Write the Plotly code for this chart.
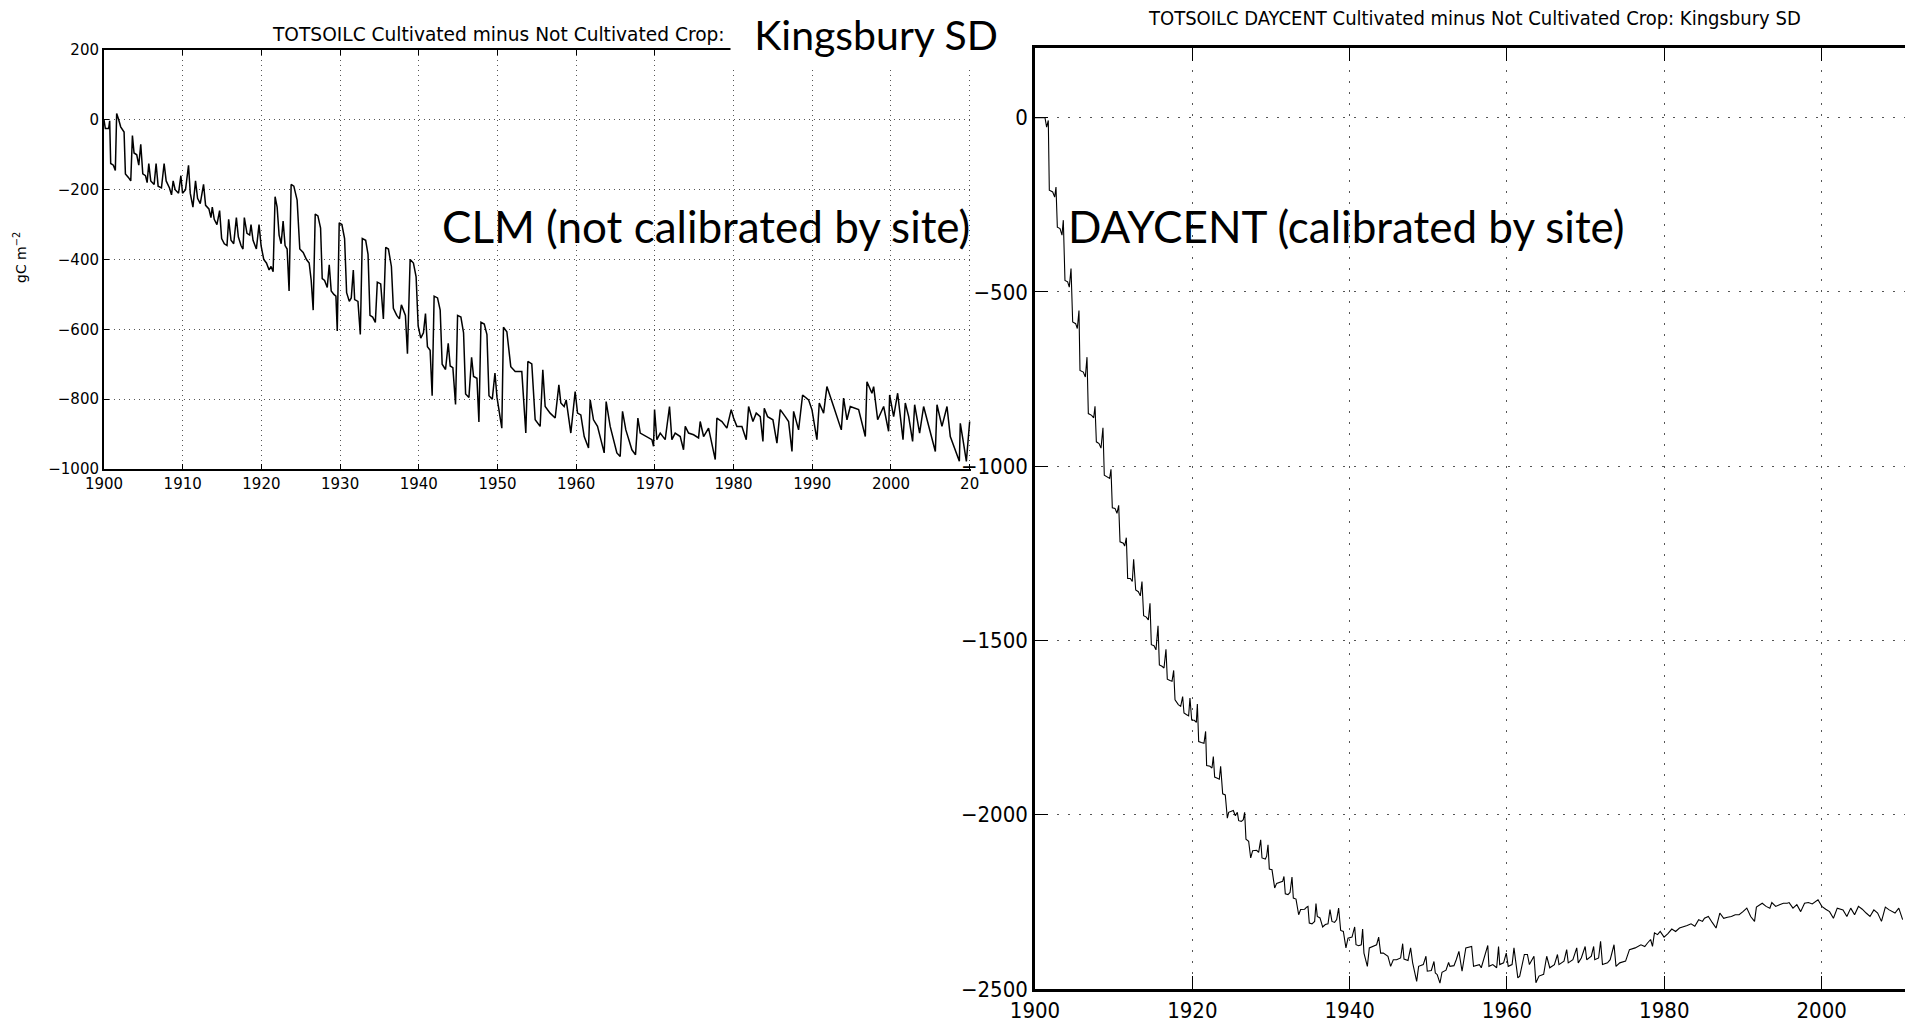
import plotly.graph_objects as go

W, H = 1905, 1026

# ---------------- data (decimal year, gC m-2) ----------------
clm_pts = [
    (1900.00, 0), (1900.17, -25), (1900.59, -25), (1900.72, -3), (1900.85, -125), (1901.19, -130),
    (1901.44, -145), (1901.61, 18), (1901.87, 0), (1902.12, -20), (1902.55, -35), (1902.72, -155),
    (1903.10, -165), (1903.40, -175), (1903.61, -45), (1903.82, -95), (1904.16, -100), (1904.42, -130),
    (1904.67, -70), (1904.93, -155), (1905.27, -160), (1905.48, -180), (1905.69, -125), (1905.94, -175),
    (1906.37, -185), (1906.62, -125), (1906.88, -190), (1907.30, -195), (1907.64, -125), (1907.90, -175),
    (1908.32, -195), (1908.58, -215), (1908.79, -175), (1909.04, -200), (1909.47, -210), (1909.77, -160),
    (1909.98, -210),
    (1910.36, -200), (1910.74, -130), (1910.96, -210), (1911.30, -250), (1911.63, -175), (1911.89, -225),
    (1912.23, -240), (1912.65, -185), (1912.91, -245), (1913.33, -255), (1913.59, -280), (1913.76, -250),
    (1914.01, -285), (1914.35, -300), (1914.69, -260), (1914.95, -340), (1915.29, -355), (1915.63, -360),
    (1915.84, -285), (1916.14, -345), (1916.48, -355), (1916.82, -280), (1917.07, -335), (1917.41, -360),
    (1917.66, -370), (1917.83, -280), (1918.17, -325), (1918.51, -330), (1918.68, -300), (1918.94, -345),
    (1919.36, -370), (1919.70, -300), (1919.96, -360),
    (1920.30, -400), (1920.64, -410), (1920.98, -430), (1921.23, -420), (1921.49, -435), (1921.74, -220),
    (1922.00, -250), (1922.25, -330), (1922.51, -355), (1922.76, -290), (1923.01, -360), (1923.27, -370),
    (1923.52, -490), (1923.78, -185), (1924.12, -190), (1924.54, -230), (1924.88, -370), (1925.31, -380),
    (1925.73, -400), (1926.07, -410), (1926.33, -460), (1926.58, -545), (1926.84, -270), (1927.18, -275),
    (1927.52, -310), (1927.73, -455), (1928.03, -460), (1928.37, -480), (1928.62, -415), (1928.87, -490),
    (1929.21, -500), (1929.47, -505), (1929.64, -605), (1929.89, -295),
    (1930.23, -300), (1930.57, -340), (1930.83, -495), (1931.17, -520), (1931.42, -510), (1931.68, -430),
    (1931.85, -515), (1932.27, -520), (1932.57, -615), (1932.82, -340), (1933.25, -345), (1933.55, -385),
    (1933.80, -560), (1934.14, -565), (1934.48, -580), (1934.73, -465), (1935.16, -470), (1935.50, -570),
    (1935.80, -365), (1936.14, -370), (1936.52, -420), (1936.77, -540), (1937.20, -560), (1937.54, -570),
    (1937.79, -530), (1938.05, -545), (1938.30, -560), (1938.56, -670), (1938.90, -400), (1939.32, -410),
    (1939.66, -450), (1939.92, -590),
    (1940.25, -625), (1940.59, -610), (1940.85, -555), (1941.10, -650), (1941.44, -660), (1941.70, -790),
    (1941.95, -505), (1942.38, -510), (1942.72, -545), (1942.97, -700), (1943.40, -715), (1943.74, -640),
    (1943.99, -705), (1944.33, -710), (1944.67, -815), (1944.93, -560), (1945.35, -565), (1945.69, -610),
    (1945.95, -785), (1946.37, -795), (1946.71, -680), (1946.96, -735), (1947.39, -740), (1947.64, -865),
    (1947.90, -580), (1948.32, -585), (1948.66, -615), (1948.92, -790), (1949.34, -800), (1949.68, -725),
    (1949.94, -795),
    (1950.55, -883), (1950.76, -594), (1951.19, -607), (1951.69, -707), (1952.25, -721), (1953.09, -721),
    (1953.60, -897), (1953.86, -692), (1954.36, -699), (1954.79, -859), (1955.42, -878), (1955.76, -716),
    (1956.06, -821), (1956.69, -840), (1957.33, -854), (1957.80, -759), (1958.05, -811), (1958.47, -821),
    (1958.73, -802), (1959.32, -897), (1959.87, -778),
    (1960.17, -840), (1960.59, -845), (1961.02, -907), (1961.57, -940), (1961.78, -802), (1962.20, -859),
    (1962.71, -878), (1963.56, -954), (1963.81, -807), (1964.32, -878), (1964.75, -916), (1965.17, -954),
    (1965.59, -964), (1965.89, -835), (1966.31, -888), (1967.08, -945), (1967.54, -959), (1967.84, -854),
    (1968.14, -897), (1968.98, -907), (1969.62, -916), (1969.83, -935), (1969.96, -830),
    (1970.25, -916), (1970.68, -897), (1971.31, -916), (1971.86, -821), (1972.16, -916), (1972.58, -897),
    (1973.22, -907), (1973.64, -945), (1973.86, -878), (1974.28, -897), (1974.92, -902), (1975.55, -911),
    (1975.76, -864), (1976.19, -907), (1976.82, -883), (1977.67, -973), (1977.88, -854), (1978.52, -864),
    (1979.15, -883), (1979.70, -830),
    (1980.00, -854), (1980.42, -878), (1981.06, -878), (1981.61, -916), (1981.91, -821), (1982.46, -864),
    (1982.88, -840), (1983.39, -850), (1983.73, -921), (1983.90, -826), (1984.32, -850), (1985.00, -859),
    (1985.51, -926), (1985.93, -830), (1986.57, -850), (1986.99, -864), (1987.42, -950), (1987.63, -835),
    (1988.26, -888), (1988.77, -788), (1989.53, -802), (1989.96, -830),
    (1990.59, -916), (1990.89, -811), (1991.44, -840), (1991.86, -764), (1992.71, -821), (1993.69, -888),
    (1993.98, -797), (1994.41, -859), (1994.83, -821), (1995.89, -830), (1996.74, -907), (1996.95, -750),
    (1997.58, -783), (1997.80, -764), (1998.31, -859), (1998.64, -840), (1999.07, -821), (1999.70, -892),
    (1999.83, -788),
    (2000.34, -850), (2000.85, -783), (2001.53, -916), (2001.82, -811), (2002.25, -850), (2002.75, -921),
    (2003.01, -816), (2003.64, -897), (2004.15, -821), (2004.58, -859), (2005.64, -950), (2005.85, -816),
    (2006.48, -878), (2007.12, -821), (2007.54, -907), (2008.69, -978), (2008.81, -869), (2009.15, -916),
    (2009.58, -978), (2010.00, -864),
]

daycent_pts = [
    (1900.00, 0), (1901.27, 0), (1901.48, -27), (1901.69, -8), (1901.82, -208), (1902.25, -213),
    (1902.50, -228), (1902.67, -199), (1902.84, -314), (1903.18, -318), (1903.43, -337), (1903.60, -294),
    (1903.81, -467), (1904.15, -471), (1904.36, -486), (1904.58, -433), (1904.79, -586), (1905.17, -591),
    (1905.38, -605), (1905.59, -553), (1905.72, -725), (1906.14, -730), (1906.40, -744), (1906.61, -687),
    (1906.78, -849), (1907.20, -854), (1907.46, -861), (1907.63, -828), (1907.80, -930), (1908.14, -935),
    (1908.39, -948), (1908.64, -890), (1908.81, -1026), (1909.24, -1031), (1909.49, -1035), (1909.66, -1009),
    (1909.83, -1119), (1910.17, -1121), (1910.42, -1135), (1910.64, -1112), (1910.81, -1217), (1911.23, -1221),
    (1911.40, -1229), (1911.61, -1205), (1911.78, -1322), (1912.12, -1322), (1912.37, -1331), (1912.54, -1267),
    (1912.80, -1355), (1913.14, -1360), (1913.39, -1372), (1913.60, -1331), (1913.81, -1429), (1914.15, -1433),
    (1914.41, -1441), (1914.62, -1393), (1914.79, -1512), (1915.13, -1515), (1915.38, -1527), (1915.64, -1458),
    (1915.81, -1570), (1916.14, -1574), (1916.40, -1579), (1916.65, -1525), (1916.82, -1611), (1917.16, -1615),
    (1917.42, -1617), (1917.63, -1586), (1917.80, -1670), (1918.22, -1684), (1918.52, -1689), (1918.77, -1661),
    (1918.94, -1708), (1919.28, -1713), (1919.53, -1716), (1919.70, -1665), (1919.92, -1728), (1920.25, -1729),
    (1920.51, -1735), (1920.64, -1682), (1920.81, -1790), (1921.14, -1793), (1921.48, -1795), (1921.69, -1761),
    (1921.82, -1859), (1922.25, -1861), (1922.50, -1866), (1922.67, -1833), (1922.84, -1892), (1923.18, -1895),
    (1923.43, -1898), (1923.60, -1861), (1923.86, -1940), (1924.19, -1943), (1924.45, -2010), (1924.62, -1993),
    (1924.96, -1990), (1925.21, -1988), (1925.47, -2003), (1925.72, -1993), (1925.89, -2017), (1926.23, -2019),
    (1926.48, -2014), (1926.65, -1993), (1926.82, -2070), (1927.16, -2076), (1927.42, -2124), (1927.67, -2103),
    (1928.18, -2102), (1928.43, -2108), (1928.69, -2072), (1928.86, -2124), (1929.28, -2127), (1929.45, -2119),
    (1929.62, -2086), (1929.79, -2156), (1930.13, -2158), (1930.47, -2210), (1930.72, -2197), (1931.23, -2194),
    (1931.48, -2191), (1931.65, -2177), (1931.82, -2227), (1932.16, -2229), (1932.42, -2223), (1932.67, -2179),
    (1932.84, -2239), (1933.18, -2242), (1933.52, -2287), (1933.77, -2272), (1934.28, -2271), (1934.53, -2265),
    (1934.70, -2263), (1934.87, -2311), (1935.21, -2313), (1935.55, -2306), (1935.72, -2255), (1935.89, -2292),
    (1936.23, -2296), (1936.57, -2322), (1936.91, -2315), (1937.25, -2313), (1937.50, -2272), (1937.75, -2306),
    (1938.09, -2309), (1938.35, -2301), (1938.60, -2268), (1938.86, -2332), (1939.20, -2335), (1939.53, -2382),
    (1939.79, -2354), (1940.30, -2351), (1940.64, -2322), (1940.81, -2373), (1941.14, -2376), (1941.48, -2373),
    (1941.65, -2328), (1941.82, -2397), (1942.25, -2435), (1942.50, -2382), (1942.92, -2378), (1943.43, -2373),
    (1943.69, -2351), (1943.94, -2397), (1944.28, -2397), (1944.53, -2402), (1944.87, -2406), (1945.21, -2435),
    (1945.55, -2416), (1945.97, -2416), (1946.48, -2411), (1946.74, -2370), (1946.91, -2414), (1947.42, -2418),
    (1947.75, -2382), (1948.01, -2425), (1948.52, -2478), (1948.77, -2435), (1949.36, -2430), (1949.70, -2406),
    (1949.87, -2449), (1950.38, -2447), (1950.72, -2421), (1950.89, -2454), (1951.14, -2459), (1951.48, -2483),
    (1951.74, -2452), (1952.25, -2446), (1952.58, -2424), (1952.75, -2435), (1953.26, -2433), (1953.55, -2416),
    (1953.89, -2392), (1954.29, -2449), (1954.77, -2382), (1955.51, -2378), (1955.75, -2435), (1956.49, -2430),
    (1956.73, -2439), (1957.56, -2375), (1957.71, -2435), (1958.20, -2430), (1958.69, -2439), (1958.93, -2378),
    (1959.08, -2430), (1959.57, -2425), (1959.91, -2397), (1960.16, -2435), (1960.65, -2430), (1960.89, -2382),
    (1961.38, -2468), (1961.62, -2463), (1962.21, -2401), (1962.60, -2401), (1962.85, -2430), (1963.43, -2406),
    (1963.68, -2482), (1964.07, -2463), (1964.66, -2458), (1965.05, -2406), (1965.44, -2439), (1966.03, -2430),
    (1966.42, -2401), (1966.61, -2430), (1967.25, -2420), (1967.59, -2387), (1967.79, -2425), (1968.38, -2416),
    (1968.87, -2382), (1969.06, -2425), (1969.45, -2411), (1969.94, -2378), (1970.14, -2416), (1970.72, -2406),
    (1971.02, -2378), (1971.16, -2416), (1971.65, -2411), (1971.90, -2363), (1972.14, -2430), (1972.78, -2425),
    (1973.12, -2416), (1973.61, -2373), (1973.86, -2435), (1974.34, -2425), (1975.08, -2420), (1975.57, -2387),
    (1976.30, -2382), (1977.03, -2373), (1977.52, -2378), (1977.87, -2368), (1978.26, -2358), (1978.50, -2378),
    (1978.75, -2339), (1979.14, -2344), (1979.48, -2335), (1979.97, -2351), (1980.46, -2341), (1980.95, -2328),
    (1981.44, -2335), (1981.93, -2325), (1982.42, -2322), (1982.91, -2318), (1983.40, -2313), (1983.88, -2320),
    (1984.37, -2301), (1984.86, -2306), (1985.11, -2297), (1985.60, -2292), (1986.09, -2309), (1986.58, -2325),
    (1987.06, -2282), (1987.55, -2297), (1988.04, -2294), (1988.53, -2292), (1989.02, -2287), (1989.51, -2287),
    (1990.00, -2278), (1990.49, -2268), (1990.98, -2292), (1991.47, -2306), (1991.71, -2265), (1992.20, -2258),
    (1992.45, -2254), (1992.94, -2263), (1993.42, -2268), (1993.67, -2252), (1994.16, -2263), (1994.65, -2258),
    (1995.14, -2254), (1995.63, -2254), (1995.87, -2252), (1996.36, -2268), (1996.85, -2258), (1997.34, -2278),
    (1997.83, -2254), (1998.32, -2252), (1998.81, -2256), (1999.54, -2244), (2000.03, -2263), (2000.52, -2271),
    (2001.01, -2278), (2001.50, -2297), (2001.99, -2268), (2002.72, -2273), (2003.21, -2292), (2003.70, -2268),
    (2004.19, -2287), (2004.68, -2263), (2005.17, -2271), (2005.66, -2282), (2006.15, -2292), (2006.64, -2273),
    (2007.12, -2282), (2007.61, -2306), (2008.10, -2265), (2008.59, -2273), (2009.33, -2282), (2009.81, -2268),
    (2010.30, -2301),
]

clm_xticks = [1900, 1910, 1920, 1930, 1940, 1950, 1960, 1970, 1980, 1990, 2000, 2010]
clm_xlabels = ["1900", "1910", "1920", "1930", "1940", "1950", "1960", "1970", "1980", "1990", "2000", "20"]
clm_yticks = [-1000, -800, -600, -400, -200, 0, 200]
day_xticks = [1900, 1920, 1940, 1960, 1980, 2000]
day_yticks = [-2500, -2000, -1500, -1000, -500, 0]

title_left = "TOTSOILC Cultivated minus Not Cultivated Crop:"
title_right = "TOTSOILC DAYCENT Cultivated minus Not Cultivated Crop: Kingsbury SD"
site_label = "Kingsbury SD"
clm_label = "CLM (not calibrated by site)"
day_label = "DAYCENT (calibrated by site)"
ylabel_left = "gC m<sup>\u22122</sup>"

# ---------------- layout helpers ----------------
def fx(px):
    return px / W

def fy(py):
    return 1 - py / H

WIDE = "DejaVu Sans, Verdana, sans-serif"
NARROW = "Liberation Sans Narrow, DejaVu Sans Condensed, Liberation Sans, Arial, sans-serif"
CAL = "Lato, Open Sans, sans-serif"

fig = go.Figure()
fig.add_trace(go.Scatter(
    x=[p[0] for p in clm_pts], y=[p[1] for p in clm_pts],
    mode="lines", line=dict(color="black", width=1.5),
    xaxis="x", yaxis="y", hoverinfo="skip", showlegend=False))
fig.add_trace(go.Scatter(
    x=[p[0] for p in daycent_pts], y=[p[1] for p in daycent_pts],
    mode="lines", line=dict(color="black", width=1.1),
    xaxis="x2", yaxis="y2", hoverinfo="skip", showlegend=False))

axis_common = dict(showline=True, linecolor="black", ticks="inside", tickcolor="black",
                   showgrid=True, gridcolor="#555555", gridwidth=1, zeroline=False,
                   automargin=False, layer="above traces")

fig.update_layout(
    template="none",
    width=W, height=H, margin=dict(l=0, r=0, t=0, b=0, pad=0, autoexpand=False),
    paper_bgcolor="white", plot_bgcolor="white", showlegend=False,
    xaxis=dict(axis_common, domain=[fx(104), fx(971)], range=[1900, 2010.17], anchor="y",
               tickvals=clm_xticks, ticktext=clm_xlabels, ticklen=5, linewidth=2, mirror="ticks",
               griddash="1px,4px", tickfont=dict(family=WIDE, size=15, color="black")),
    yaxis=dict(axis_common, domain=[fy(469), fy(50)], range=[-1000, 200], anchor="x",
               tickvals=clm_yticks, ticklen=5, linewidth=2, mirror=False,
               griddash="1px,4px", tickfont=dict(family=WIDE, size=15, color="black")),
    xaxis2=dict(axis_common, domain=[fx(1035), 1.0], range=[1900, 2010.6], anchor="y2",
                tickvals=day_xticks, ticklen=13, linewidth=2.5, mirror="ticks",
                griddash="2px,9px", tickfont=dict(family=NARROW, size=22, color="black")),
    yaxis2=dict(axis_common, domain=[fy(989), fy(48)], range=[-2500, 200], anchor="x2",
                tickvals=day_yticks, ticklen=13, linewidth=2.5, mirror=False,
                griddash="2px,9px", tickfont=dict(family=NARROW, size=22, color="black")),
)

annotations = [
    dict(text=title_left, x=fx(499), y=fy(35), xanchor="center", yanchor="middle",
         font=dict(family=WIDE, size=18.6, color="black")),
    dict(text=site_label, x=fx(876), y=fy(34), xanchor="center", yanchor="middle",
         width=290, height=68, bgcolor="white", borderpad=0,
         font=dict(family=CAL, size=41, color="black")),
    dict(text=clm_label, x=fx(706), y=fy(226), xanchor="center", yanchor="middle",
         font=dict(family=CAL, size=44, color="black")),
    dict(text=day_label, x=fx(1346), y=fy(226), xanchor="center", yanchor="middle",
         font=dict(family=CAL, size=44, color="black")),
    dict(text=title_right, x=fx(1474), y=fy(18), xanchor="center", yanchor="middle",
         font=dict(family=NARROW, size=20, color="black")),
    dict(text=ylabel_left, x=fx(20), y=fy(258), xanchor="center", yanchor="middle",
         textangle=-90, font=dict(family=WIDE, size=14, color="black")),
]
for a in annotations:
    a.update(xref="paper", yref="paper", showarrow=False)
fig.update_layout(annotations=annotations)

fig.write_html("out.html")
